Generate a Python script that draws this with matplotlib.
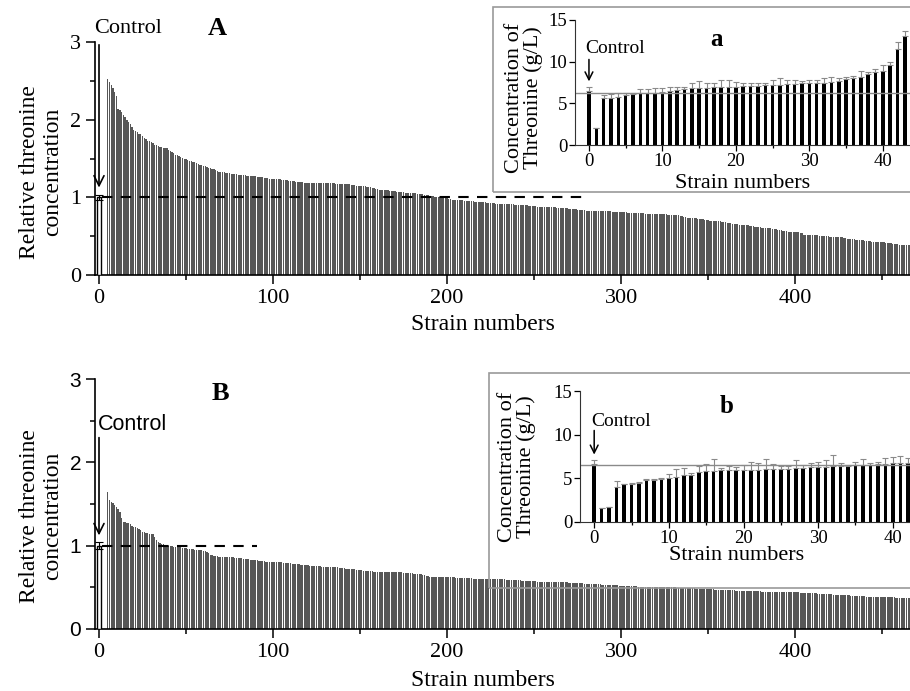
import matplotlib
matplotlib.use('Agg')
import matplotlib.pyplot as plt
import numpy as np
from matplotlib.patches import Rectangle

plt.rcParams['font.family'] = 'Liberation Serif'

# relative threonine concentration of the mutant strains (sorted), first strain at x=5
first_strain = 5
rel_A = [2.52, 2.49, 2.45, 2.41, 2.36, 2.30, 2.14, 2.12, 2.10, 2.06, 2.03, 2.00, 1.97, 1.94, 1.90, 1.87, 1.85, 1.84, 1.82, 1.81,
         1.79, 1.77, 1.75, 1.73, 1.72, 1.71, 1.70, 1.68, 1.67, 1.66, 1.65, 1.65, 1.64, 1.63, 1.63, 1.61, 1.60, 1.58, 1.57, 1.55,
         1.54, 1.53, 1.52, 1.51, 1.50, 1.49, 1.48, 1.47, 1.47, 1.46, 1.45, 1.44, 1.43, 1.42, 1.41, 1.40, 1.40, 1.39, 1.38, 1.38,
         1.37, 1.36, 1.35, 1.34, 1.33, 1.33, 1.32, 1.32, 1.31, 1.31, 1.31, 1.30, 1.30, 1.30, 1.30, 1.29, 1.29, 1.29, 1.29, 1.29,
         1.28, 1.28, 1.28, 1.27, 1.27, 1.27, 1.26, 1.26, 1.26, 1.26, 1.25, 1.25, 1.25, 1.24, 1.24, 1.24, 1.23, 1.23, 1.23, 1.23,
         1.22, 1.22, 1.22, 1.22, 1.21, 1.21, 1.21, 1.21, 1.20, 1.20, 1.20, 1.20, 1.20, 1.19, 1.19, 1.19, 1.19, 1.19, 1.19, 1.19,
         1.19, 1.19, 1.18, 1.18, 1.18, 1.18, 1.18, 1.18, 1.18, 1.18, 1.18, 1.17, 1.17, 1.17, 1.17, 1.17, 1.17, 1.17, 1.17, 1.17,
         1.16, 1.16, 1.16, 1.15, 1.15, 1.15, 1.14, 1.14, 1.14, 1.13, 1.13, 1.13, 1.12, 1.12, 1.11, 1.11, 1.10, 1.10, 1.10, 1.09,
         1.09, 1.09, 1.08, 1.08, 1.08, 1.08, 1.07, 1.07, 1.07, 1.07, 1.07, 1.06, 1.06, 1.06, 1.06, 1.05, 1.05, 1.05, 1.04, 1.04,
         1.04, 1.04, 1.03, 1.03, 1.03, 1.02, 1.02, 1.02, 1.01, 1.01, 1.01, 1.00, 1.00, 0.99, 0.99, 0.99, 0.98, 0.98, 0.97, 0.97,
         0.97, 0.96, 0.96, 0.96, 0.96, 0.95, 0.95, 0.95, 0.95, 0.95, 0.95, 0.94, 0.94, 0.94, 0.94, 0.94, 0.94, 0.94, 0.93, 0.93,
         0.93, 0.93, 0.93, 0.92, 0.92, 0.92, 0.92, 0.92, 0.91, 0.91, 0.91, 0.91, 0.91, 0.91, 0.90, 0.90, 0.90, 0.90, 0.90, 0.90,
         0.90, 0.90, 0.89, 0.89, 0.89, 0.89, 0.89, 0.88, 0.88, 0.88, 0.88, 0.88, 0.87, 0.87, 0.87, 0.87, 0.87, 0.87, 0.86, 0.86,
         0.86, 0.86, 0.86, 0.86, 0.86, 0.85, 0.85, 0.85, 0.85, 0.85, 0.84, 0.84, 0.84, 0.84, 0.84, 0.83, 0.83, 0.83, 0.83, 0.83,
         0.83, 0.83, 0.82, 0.82, 0.82, 0.82, 0.82, 0.82, 0.82, 0.82, 0.81, 0.81, 0.81, 0.81, 0.81, 0.81, 0.81, 0.81, 0.81, 0.80,
         0.80, 0.80, 0.80, 0.80, 0.80, 0.80, 0.80, 0.80, 0.80, 0.79, 0.79, 0.79, 0.79, 0.79, 0.79, 0.78, 0.78, 0.78, 0.78, 0.78,
         0.78, 0.78, 0.77, 0.77, 0.77, 0.77, 0.77, 0.77, 0.77, 0.76, 0.76, 0.75, 0.75, 0.74, 0.74, 0.74, 0.73, 0.73, 0.73, 0.72,
         0.72, 0.72, 0.72, 0.71, 0.71, 0.71, 0.70, 0.70, 0.70, 0.70, 0.69, 0.69, 0.69, 0.68, 0.68, 0.68, 0.67, 0.67, 0.67, 0.66,
         0.66, 0.66, 0.66, 0.65, 0.65, 0.65, 0.64, 0.64, 0.64, 0.63, 0.63, 0.63, 0.62, 0.62, 0.62, 0.62, 0.61, 0.61, 0.61, 0.60,
         0.60, 0.60, 0.59, 0.59, 0.59, 0.58, 0.58, 0.58, 0.57, 0.57, 0.57, 0.56, 0.56, 0.56, 0.55, 0.55, 0.55, 0.55, 0.54, 0.54,
         0.52, 0.52, 0.52, 0.51, 0.51, 0.51, 0.51, 0.51, 0.51, 0.50, 0.50, 0.50, 0.50, 0.50, 0.50, 0.49, 0.49, 0.49, 0.49, 0.49,
         0.49, 0.49, 0.49, 0.47, 0.47, 0.46, 0.46, 0.46, 0.46, 0.46, 0.45, 0.45, 0.45, 0.45, 0.45, 0.44, 0.44, 0.44, 0.44, 0.43,
         0.43, 0.43, 0.43, 0.42, 0.42, 0.42, 0.42, 0.41, 0.41, 0.41, 0.41, 0.40, 0.40, 0.40, 0.40, 0.39, 0.39, 0.39, 0.39, 0.38,
         0.38, 0.38]

rel_B = [1.65, 1.55, 1.53, 1.51, 1.49, 1.46, 1.44, 1.41, 1.33, 1.29, 1.28, 1.27, 1.27, 1.26, 1.24, 1.23, 1.22, 1.21, 1.20, 1.19,
         1.17, 1.16, 1.15, 1.15, 1.14, 1.14, 1.14, 1.10, 1.07, 1.05, 1.03, 1.02, 1.02, 1.01, 1.01, 1.00, 1.00, 1.00, 0.99, 0.99,
         0.99, 0.98, 0.98, 0.97, 0.97, 0.97, 0.96, 0.96, 0.96, 0.96, 0.95, 0.95, 0.95, 0.95, 0.95, 0.94, 0.94, 0.93, 0.91, 0.89,
         0.89, 0.88, 0.88, 0.88, 0.87, 0.87, 0.87, 0.87, 0.86, 0.86, 0.86, 0.86, 0.86, 0.85, 0.85, 0.85, 0.85, 0.85, 0.84, 0.84,
         0.84, 0.84, 0.83, 0.83, 0.83, 0.83, 0.83, 0.82, 0.82, 0.82, 0.82, 0.81, 0.81, 0.81, 0.81, 0.81, 0.80, 0.80, 0.80, 0.80,
         0.80, 0.79, 0.79, 0.79, 0.79, 0.79, 0.78, 0.78, 0.78, 0.78, 0.78, 0.77, 0.77, 0.77, 0.77, 0.77, 0.76, 0.76, 0.76, 0.76,
         0.76, 0.76, 0.76, 0.75, 0.75, 0.75, 0.75, 0.75, 0.74, 0.74, 0.74, 0.74, 0.74, 0.73, 0.73, 0.73, 0.73, 0.72, 0.72, 0.72,
         0.72, 0.72, 0.72, 0.71, 0.71, 0.71, 0.71, 0.70, 0.70, 0.70, 0.70, 0.70, 0.70, 0.69, 0.69, 0.69, 0.69, 0.69, 0.69, 0.69,
         0.69, 0.68, 0.68, 0.68, 0.68, 0.68, 0.68, 0.68, 0.68, 0.68, 0.67, 0.67, 0.67, 0.67, 0.67, 0.67, 0.66, 0.66, 0.66, 0.66,
         0.66, 0.65, 0.65, 0.64, 0.64, 0.63, 0.63, 0.63, 0.63, 0.63, 0.63, 0.62, 0.62, 0.62, 0.62, 0.62, 0.62, 0.62, 0.62, 0.62,
         0.61, 0.61, 0.61, 0.61, 0.61, 0.61, 0.61, 0.61, 0.61, 0.61, 0.60, 0.60, 0.60, 0.60, 0.60, 0.60, 0.60, 0.60, 0.60, 0.60,
         0.60, 0.60, 0.60, 0.60, 0.60, 0.60, 0.60, 0.60, 0.60, 0.59, 0.59, 0.59, 0.59, 0.59, 0.59, 0.59, 0.59, 0.59, 0.58, 0.58,
         0.58, 0.58, 0.58, 0.58, 0.58, 0.58, 0.58, 0.57, 0.57, 0.57, 0.57, 0.57, 0.57, 0.57, 0.57, 0.57, 0.56, 0.56, 0.56, 0.56,
         0.56, 0.56, 0.56, 0.56, 0.56, 0.55, 0.55, 0.55, 0.55, 0.55, 0.55, 0.55, 0.55, 0.55, 0.54, 0.54, 0.54, 0.54, 0.54, 0.54,
         0.54, 0.54, 0.54, 0.54, 0.53, 0.53, 0.53, 0.53, 0.53, 0.53, 0.53, 0.53, 0.53, 0.53, 0.52, 0.52, 0.52, 0.52, 0.52, 0.52,
         0.52, 0.52, 0.52, 0.52, 0.52, 0.51, 0.51, 0.51, 0.51, 0.51, 0.51, 0.51, 0.51, 0.51, 0.51, 0.51, 0.50, 0.50, 0.50, 0.50,
         0.50, 0.50, 0.50, 0.50, 0.50, 0.50, 0.50, 0.49, 0.49, 0.49, 0.49, 0.49, 0.49, 0.49, 0.49, 0.49, 0.49, 0.49, 0.48, 0.48,
         0.48, 0.48, 0.48, 0.48, 0.48, 0.48, 0.48, 0.48, 0.48, 0.47, 0.47, 0.47, 0.47, 0.47, 0.47, 0.47, 0.47, 0.47, 0.47, 0.47,
         0.47, 0.46, 0.46, 0.46, 0.46, 0.46, 0.46, 0.46, 0.46, 0.46, 0.46, 0.46, 0.46, 0.46, 0.46, 0.46, 0.45, 0.45, 0.45, 0.45,
         0.45, 0.45, 0.45, 0.45, 0.45, 0.45, 0.45, 0.45, 0.44, 0.44, 0.44, 0.44, 0.44, 0.44, 0.44, 0.44, 0.44, 0.44, 0.43, 0.43,
         0.43, 0.43, 0.43, 0.43, 0.43, 0.43, 0.43, 0.43, 0.42, 0.42, 0.42, 0.42, 0.42, 0.42, 0.42, 0.42, 0.42, 0.41, 0.41, 0.41,
         0.41, 0.41, 0.41, 0.41, 0.41, 0.41, 0.41, 0.40, 0.40, 0.40, 0.40, 0.40, 0.40, 0.40, 0.40, 0.40, 0.39, 0.39, 0.39, 0.39,
         0.39, 0.39, 0.39, 0.39, 0.39, 0.38, 0.38, 0.38, 0.38, 0.38, 0.38, 0.38, 0.38, 0.37, 0.37, 0.37, 0.37, 0.37, 0.37, 0.37,
         0.37, 0.37]

ctrl_err_A = 0.035
ctrl_err_B = 0.045
dash_end_A = 278
dash_end_B = 91

# insets: threonine (g/L), strain 0 = control
conc_a = [6.5, 2.1, 5.7, 5.7, 5.8, 6.0, 6.1, 6.2, 6.3, 6.3, 6.4, 6.5, 6.6, 6.7, 6.8, 6.8, 6.9, 7.0, 7.0, 7.0,
          7.0, 7.1, 7.1, 7.1, 7.2, 7.2, 7.2, 7.3, 7.3, 7.4, 7.4, 7.5, 7.5, 7.6, 7.7, 7.9, 8.1, 8.2, 8.5, 8.8,
          8.9, 9.6, 11.5, 13.1]
err_a = [0.5, 0.0, 0.3, 0.4, 0.4, 0.3, 0.2, 0.5, 0.4, 0.6, 0.5, 0.5, 0.4, 0.3, 0.6, 0.9, 0.6, 0.5, 0.8, 0.8,
         0.6, 0.3, 0.4, 0.4, 0.3, 0.6, 0.8, 0.5, 0.5, 0.3, 0.4, 0.3, 0.6, 0.6, 0.4, 0.3, 0.2, 0.7, 0.3, 0.3,
         0.7, 0.3, 0.8, 0.6]
ref_a = 6.2

conc_b = [6.6, 1.6, 1.7, 4.0, 4.3, 4.4, 4.5, 4.8, 4.8, 4.9, 5.0, 5.15, 5.35, 5.4, 5.7, 5.8, 5.85, 5.9, 5.9, 5.9,
          6.0, 6.0, 6.0, 6.05, 6.05, 6.1, 6.1, 6.2, 6.2, 6.3, 6.3, 6.35, 6.4, 6.4, 6.45, 6.5, 6.5, 6.55, 6.6, 6.65,
          6.7, 6.7, 6.75]
err_b = [0.5, 0.0, 0.0, 0.7, 0.1, 0.1, 0.1, 0.1, 0.1, 0.1, 0.5, 0.9, 0.8, 0.2, 0.7, 0.8, 1.4, 0.3, 0.5, 0.4,
         0.5, 0.9, 0.7, 1.2, 0.6, 0.3, 0.3, 0.9, 0.3, 0.5, 0.6, 0.8, 1.3, 0.4, 0.1, 0.4, 0.7, 0.2, 0.3, 0.7,
         0.7, 0.9, 0.6]
ref_b = 6.5

W, H = 910, 691
fig = plt.figure(figsize=(W / 100, H / 100), dpi=100)


def px_rect(x0, top, x1, bottom):
    # pixel box -> figure fraction rect
    return [x0 / W, 1 - bottom / H, (x1 - x0) / W, (bottom - top) / H]


def main_panel(rect, vals, ctrl_err, dash_end, letter, letter_xy, ctrl_xy, arrow_top, sans):
    ax = fig.add_axes(rect)
    x = np.arange(first_strain, first_strain + len(vals))
    ax.bar(x, vals, width=0.76, color='#575757', linewidth=0)
    ax.bar(0, 1, width=2.4, color='white', edgecolor='black', linewidth=1.0, zorder=3)
    ax.errorbar(0, 1, yerr=ctrl_err, color='black', capsize=3, elinewidth=0.8, capthick=0.8, zorder=4)
    ax.plot([1.6, dash_end], [1, 1], color='black', lw=1.5, dashes=(5, 4), zorder=5)
    ax.annotate('', xy=(0, 1.09), xytext=(0, arrow_top),
                arrowprops=dict(arrowstyle='->', lw=1.2, mutation_scale=18, color='black'),
                annotation_clip=False, zorder=6)
    fam = 'Liberation Sans' if sans else 'Liberation Serif'
    ax.text(ctrl_xy[0], ctrl_xy[1], 'Control', family=fam, fontsize=16 if not sans else 15.5,
            ha='left', va='center', clip_on=False)
    ax.text(letter_xy[0], letter_xy[1], letter, fontsize=19, fontweight='bold', ha='center', va='center',
            clip_on=False)
    ax.set_xlim(-2.3, 466)
    ax.set_ylim(0, 3)
    ax.set_xticks([0, 100, 200, 300, 400])
    ax.set_xticks(np.arange(50, 466, 100), minor=True)
    ax.set_yticks([0, 1, 2, 3])
    ax.set_yticks([0.5, 1.5, 2.5], minor=True)
    ax.tick_params(which='major', direction='out', length=6.5, width=1.1, labelsize=16)
    ax.tick_params(which='minor', direction='out', length=3.5, width=1.1)
    for lab in ax.get_yticklabels():
        lab.set_family(fam)
        if sans:
            lab.set_fontsize(15)
    for s in ['top', 'right']:
        ax.spines[s].set_visible(False)
    for s in ['left', 'bottom']:
        ax.spines[s].set_linewidth(1.2)
    return ax


def inset_panel(rect, box, vals, errs, ref, letter, letter_xy, ctrl_xy, arrow, xmax):
    fig.patches.append(Rectangle((box[0] / W, 1 - box[3] / H), (box[2] - box[0]) / W,
                                 (box[3] - box[1]) / H, transform=fig.transFigure, fill=False,
                                 edgecolor='#9a9a9a', lw=1.2))
    ax = fig.add_axes(rect)
    x = np.arange(len(vals))
    ax.bar(x, vals, width=0.48, color='black', linewidth=0)
    ax.errorbar(x, vals, yerr=[np.zeros(len(errs)), errs], fmt='none', ecolor='#8a8a8a',
                elinewidth=0.8, capsize=2.2, capthick=0.8)
    ax.axhline(ref, color='#8a8a8a', lw=1.0)
    ax.annotate('', xy=(0, arrow[1]), xytext=(0, arrow[0]),
                arrowprops=dict(arrowstyle='->', lw=1.1, mutation_scale=14, color='black'))
    ax.text(ctrl_xy[0], ctrl_xy[1], 'Control', fontsize=14, ha='left', va='center')
    ax.text(letter_xy[0], letter_xy[1], letter, fontsize=18, fontweight='bold', ha='center', va='center')
    ax.set_xlim(-1.9, xmax)
    ax.set_ylim(0, 15)
    ax.set_xticks([0, 10, 20, 30, 40])
    ax.set_xticks([5, 15, 25, 35], minor=True)
    ax.set_yticks([0, 5, 10, 15])
    ax.tick_params(which='major', direction='out', length=4, width=0.9, labelsize=13.5, pad=1.5)
    ax.tick_params(which='minor', direction='out', length=2.5, width=0.9)
    for s in ['top', 'right']:
        ax.spines[s].set_visible(False)
    for s in ['left', 'bottom']:
        ax.spines[s].set_color('#333333')
    return ax


axA = main_panel(px_rect(95, 42, 910, 275), rel_A, ctrl_err_A, dash_end_A, 'A', (68, 3.18),
                 (-2.9, 3.18), 3.0, False)
axB = main_panel(px_rect(95, 379, 910, 629), rel_B, ctrl_err_B, dash_end_B, 'B', (70, 2.83),
                 (-0.5, 2.45), 2.33, True)

fig.text(41 / W, 1 - 172 / H, 'Relative threonine\nconcentration', rotation=90, fontsize=17,
         ha='center', va='center', linespacing=1.1)
fig.text(41 / W, 1 - 516 / H, 'Relative threonine\nconcentration', rotation=90, fontsize=17,
         ha='center', va='center', linespacing=1.1)
fig.text(483 / W, 1 - 325 / H, 'Strain numbers', fontsize=17, ha='center', va='center')
fig.text(483 / W, 1 - 680 / H, 'Strain numbers', fontsize=17, ha='center', va='center')

ax_a = inset_panel(px_rect(575, 20, 910, 145), (493, 7, 925, 192), conc_a, err_a, ref_a, 'a',
                   (17.4, 12.6), (-0.5, 11.6), (10.6, 7.3), 43.7)
ax_b = inset_panel(px_rect(580, 391, 910, 522), (489, 373, 925, 588), conc_b, err_b, ref_b, 'b',
                   (17.8, 13.2), (-0.4, 11.5), (10.8, 7.4), 42.3)

fig.text(524 / W, 1 - 98 / H, 'Concentration of\nThreonine (g/L)', rotation=90, fontsize=16,
         ha='center', va='center', linespacing=1.0)
fig.text(517 / W, 1 - 467 / H, 'Concentration of\nThreonine (g/L)', rotation=90, fontsize=16,
         ha='center', va='center', linespacing=1.0)
fig.text(743 / W, 1 - 183 / H, 'Strain numbers', fontsize=16, ha='center', va='center')
fig.text(737 / W, 1 - 555 / H, 'Strain numbers', fontsize=16, ha='center', va='center')

fig.savefig('out.png', dpi=100)
